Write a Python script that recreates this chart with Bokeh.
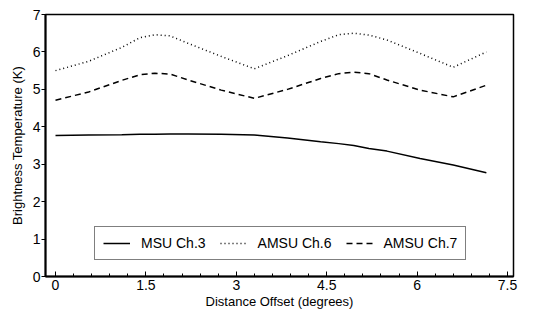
from bokeh.plotting import figure
from bokeh.models import Range1d, FixedTicker, Legend, LegendItem
from bokeh.embed import file_html
from bokeh.resources import INLINE

# Data
x = [0, 0.55, 1.1, 1.4, 1.65, 1.9, 2.2, 2.75, 3.3, 3.85, 4.4, 4.7, 4.95, 5.2, 5.5, 6.05, 6.6, 7.15]
msu_ch3 = [3.77, 3.78, 3.79, 3.80, 3.80, 3.81, 3.81, 3.80, 3.78, 3.70, 3.60, 3.55, 3.50, 3.42, 3.35, 3.15, 2.98, 2.77]
amsu_ch6 = [5.50, 5.75, 6.12, 6.38, 6.46, 6.43, 6.23, 5.88, 5.55, 5.90, 6.28, 6.46, 6.50, 6.45, 6.32, 5.96, 5.59, 6.00]
amsu_ch7 = [4.71, 4.93, 5.24, 5.39, 5.43, 5.41, 5.25, 4.98, 4.76, 5.00, 5.29, 5.42, 5.46, 5.42, 5.25, 4.98, 4.80, 5.11]

x_major = [0, 1.5, 3, 4.5, 6, 7.5]
x_minor = [round(i * 0.3, 2) for i in range(0, 26)]
y_major = [0, 1, 2, 3, 4, 5, 6, 7]

FONT = "Liberation Sans"

p = figure(width=519, height=311, output_backend="svg", toolbar_location=None,
           x_range=Range1d(-0.166, 7.6), y_range=Range1d(0, 7),
           min_border_left=45, min_border_top=14, min_border_right=6, min_border_bottom=5)

p.grid.visible = False
p.outline_line_color = "black"
p.outline_line_width = 1.5
p.outline_line_alpha = 1.0

xa = p.xaxis[0]
xa.ticker = FixedTicker(ticks=x_major, minor_ticks=x_minor)
xa.major_label_overrides = {0: "0", 1.5: "1.5", 3: "3", 4.5: "4.5", 6: "6", 7.5: "7.5"}
xa.axis_label = "Distance Offset (degrees)"
xa.axis_line_width = 2
xa.axis_line_color = "black"
xa.major_tick_in = 5
xa.major_tick_out = 0
xa.minor_tick_in = 3
xa.minor_tick_out = 0
xa.major_tick_line_color = "black"
xa.minor_tick_line_color = "black"
xa.major_label_text_font = FONT
xa.major_label_text_font_size = "14px"
xa.major_label_text_color = "black"
xa.major_label_standoff = 3
xa.axis_label_text_font = FONT
xa.axis_label_text_font_size = "13px"
xa.axis_label_text_font_style = "normal"
xa.axis_label_text_color = "black"
xa.axis_label_standoff = 1

ya = p.yaxis[0]
ya.ticker = FixedTicker(ticks=y_major, minor_ticks=[])
ya.axis_label = "Brightness Temperature (K)"
ya.axis_line_width = 2
ya.axis_line_color = "black"
ya.major_tick_in = 0
ya.major_tick_out = 4
ya.major_tick_line_color = "black"
ya.major_label_text_font = FONT
ya.major_label_text_font_size = "14px"
ya.major_label_text_color = "black"
ya.major_label_standoff = 1
ya.axis_label_text_font = FONT
ya.axis_label_text_font_size = "13px"
ya.axis_label_text_font_style = "normal"
ya.axis_label_text_color = "black"
ya.axis_label_standoff = 5

r1 = p.line(x, msu_ch3, line_color="black", line_width=1.5)
r2 = p.line(x, amsu_ch6, line_color="black", line_width=1.5, line_dash="1 3")
r3 = p.line(x, amsu_ch7, line_color="black", line_width=1.5, line_dash="6 4")

legend = Legend(items=[LegendItem(label="MSU Ch.3", renderers=[r1]),
                       LegendItem(label="AMSU Ch.6", renderers=[r2]),
                       LegendItem(label="AMSU Ch.7", renderers=[r3])],
                orientation="horizontal", location=(49, 16),
                glyph_width=27, glyph_height=14, label_standoff=11, spacing=14,
                padding=8, margin=0,
                label_text_font=FONT, label_text_font_size="14px", label_text_color="black",
                border_line_color="black", border_line_width=1.5,
                background_fill_color="white", background_fill_alpha=1.0)
p.add_layout(legend)

open("out.html", "w").write(file_html(p, INLINE))
